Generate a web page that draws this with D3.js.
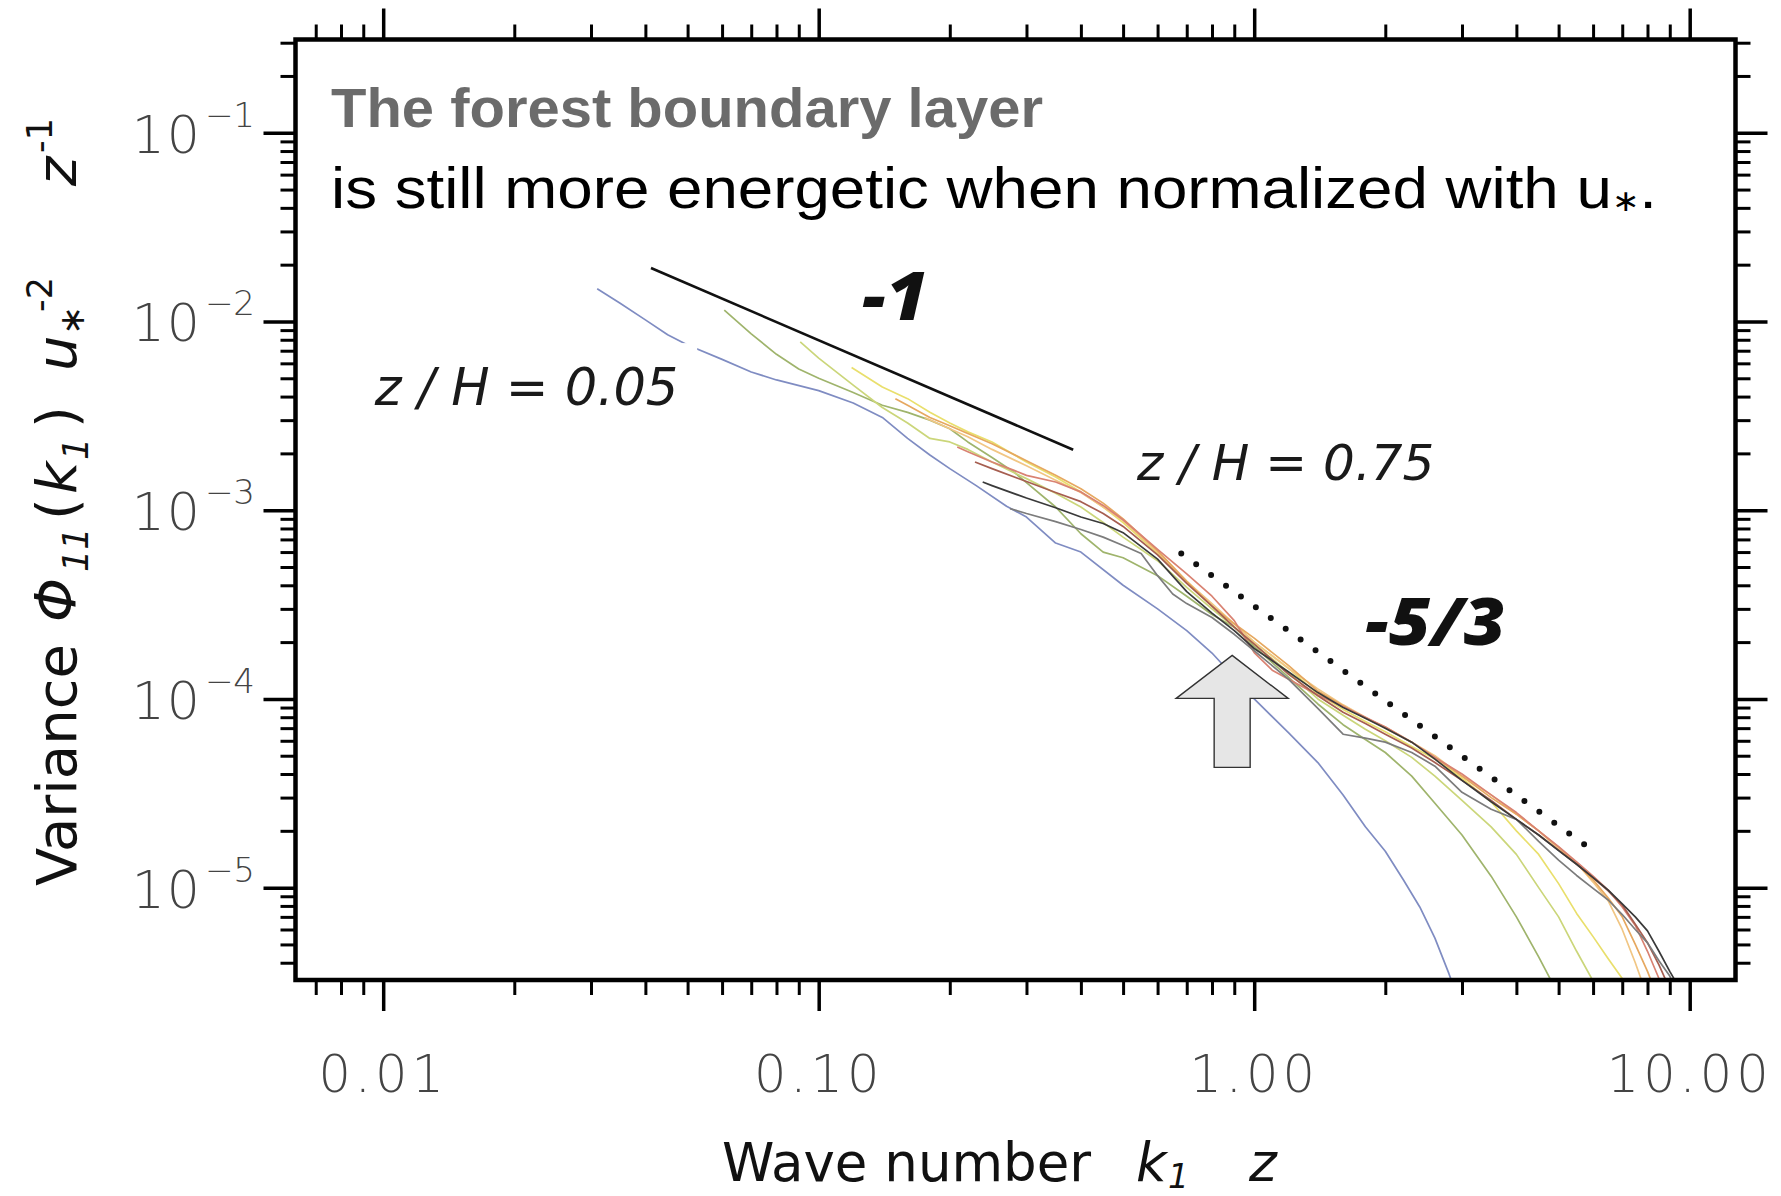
<!DOCTYPE html>
<html>
<head>
<meta charset="utf-8">
<script src="https://cdn.jsdelivr.net/npm/d3@7"></script>
<style>
  html, body { margin: 0; padding: 0; background: #fff; }
  svg { display: block; }
</style>
</head>
<body>
<svg id="chart" width="1781" height="1196"></svg>
<script>
// axis ticks and labels
const xMajor = [0.01, 0.1, 1, 10];
const xLabels = ["0.01", "0.10", "1.00", "10.00"];
const yMajor = [1e-1, 1e-2, 1e-3, 1e-4, 1e-5];
const yExponents = ["\u22121", "\u22122", "\u22123", "\u22124", "\u22125"];

// spectra: [k1 z, Phi11 u*^-2 z^-1], lowest level (z/H = 0.05) first
const specBlue = [[0.031,1.49e-2],[0.035,1.25e-2],[0.04,1.02e-2],[0.045,8.5e-3],[0.05,7.5e-3],[0.06,6.3e-3],[0.07,5.4e-3],[0.08,4.9e-3],[0.1,4.3e-3],[0.12,3.7e-3],[0.14,3.1e-3],[0.16,2.4e-3],[0.18,1.96e-3],[0.2,1.66e-3],[0.23,1.35e-3],[0.27,1.05e-3],[0.3,9.2e-4],[0.35,6.7e-4],[0.4,6.0e-4],[0.5,4.0e-4],[0.6,3.0e-4],[0.7,2.3e-4],[0.8,1.75e-4],[1.0,1.0e-4],[1.2,6.6e-5],[1.4,4.6e-5],[1.6,3.1e-5],[1.8,2.1e-5],[2.0,1.56e-5],[2.2,1.1e-5],[2.4,7.9e-6],[2.6,5.4e-6],[2.8,3.5e-6],[2.9,2.8e-6]];
const specGreen = [[0.0607,1.15e-2],[0.07,8.6e-3],[0.08,6.7e-3],[0.09,5.6e-3],[0.1,5.0e-3],[0.12,4.2e-3],[0.14,3.6e-3],[0.16,3.3e-3],[0.18,3.0e-3],[0.2,2.7e-3],[0.22,2.3e-3],[0.25,1.9e-3],[0.28,1.6e-3],[0.3,1.4e-3],[0.35,1.04e-3],[0.4,7.5e-4],[0.45,6.0e-4],[0.5,5.6e-4],[0.6,4.5e-4],[0.7,3.5e-4],[0.8,2.8e-4],[0.9,2.4e-4],[1.0,1.9e-4],[1.2,1.3e-4],[1.4,9.4e-5],[1.6,7.3e-5],[1.8,6.1e-5],[2.0,5.2e-5],[2.3,3.9e-5],[2.6,2.8e-5],[3.0,1.9e-5],[3.5,1.15e-5],[4.0,7.0e-6],[4.5,4.3e-6],[5.0,2.7e-6]];
const specYellowGreen = [[0.0907,7.8e-3],[0.1,6.4e-3],[0.12,4.6e-3],[0.14,3.5e-3],[0.16,2.9e-3],[0.18,2.4e-3],[0.2,2.3e-3],[0.22,2.1e-3],[0.25,1.8e-3],[0.3,1.47e-3],[0.35,1.23e-3],[0.4,1.04e-3],[0.45,8.6e-4],[0.5,7.2e-4],[0.6,5.4e-4],[0.7,3.9e-4],[0.8,3.0e-4],[0.9,2.4e-4],[1.0,1.95e-4],[1.2,1.38e-4],[1.4,1.0e-4],[1.6,8.2e-5],[1.8,6.9e-5],[2.0,6.0e-5],[2.3,4.9e-5],[2.6,3.9e-5],[3.0,2.9e-5],[3.5,2.1e-5],[4.0,1.5e-5],[4.5,1.0e-5],[5.0,7.0e-6],[5.5,4.6e-6],[6.0,3.2e-6]];
const specYellow = [[0.119,5.7e-3],[0.14,4.5e-3],[0.16,3.9e-3],[0.18,3.3e-3],[0.2,2.9e-3],[0.22,2.6e-3],[0.25,2.3e-3],[0.3,1.8e-3],[0.35,1.5e-3],[0.4,1.25e-3],[0.45,1.04e-3],[0.5,8.6e-4],[0.6,5.9e-4],[0.7,4.2e-4],[0.8,3.1e-4],[0.9,2.5e-4],[1.0,2.0e-4],[1.2,1.45e-4],[1.4,1.06e-4],[1.6,8.8e-5],[1.8,7.6e-5],[2.0,6.7e-5],[2.3,5.6e-5],[2.6,4.8e-5],[3.0,3.8e-5],[3.5,2.85e-5],[4.0,2.0e-5],[4.5,1.5e-5],[5.0,1.05e-5],[5.5,7.3e-6],[6.0,5.5e-6],[6.5,4.2e-6],[7.0,3.3e-6],[7.3,2.9e-6]];
const specLightOrange = [[0.175,3.1e-3],[0.2,2.7e-3],[0.22,2.45e-3],[0.25,2.1e-3],[0.3,1.72e-3],[0.35,1.44e-3],[0.4,1.24e-3],[0.45,1.04e-3],[0.5,8.8e-4],[0.6,6.0e-4],[0.7,4.2e-4],[0.8,3.2e-4],[0.9,2.5e-4],[1.0,2.0e-4],[1.2,1.45e-4],[1.4,1.13e-4],[1.6,9.3e-5],[1.8,8.0e-5],[2.0,7.0e-5],[2.3,5.9e-5],[2.6,5.0e-5],[3.0,3.9e-5],[3.5,3.1e-5],[4.0,2.45e-5],[4.5,2.0e-5],[5.0,1.6e-5],[5.5,1.35e-5],[6.0,1.07e-5],[6.5,8.5e-6],[7.0,6.0e-6],[7.5,4.0e-6],[7.8,3.1e-6]];
const specOrange = [[0.15,3.9e-3],[0.16,3.6e-3],[0.18,3.1e-3],[0.2,2.8e-3],[0.22,2.55e-3],[0.25,2.25e-3],[0.3,1.83e-3],[0.35,1.53e-3],[0.4,1.3e-3],[0.45,1.09e-3],[0.5,9.0e-4],[0.6,6.1e-4],[0.7,4.2e-4],[0.8,3.1e-4],[0.9,2.5e-4],[1.0,2.1e-4],[1.2,1.5e-4],[1.4,1.1e-4],[1.6,9.2e-5],[1.8,7.9e-5],[2.0,7.1e-5],[2.3,5.9e-5],[2.6,4.9e-5],[3.0,3.9e-5],[3.5,3.0e-5],[4.0,2.45e-5],[4.5,2.0e-5],[5.0,1.64e-5],[5.5,1.34e-5],[6.0,1.1e-5],[6.5,8.8e-6],[7.0,7.0e-6],[7.5,5.0e-6],[8.0,3.6e-6],[8.3,2.9e-6]];
const specRed = [[0.208,2.16e-3],[0.22,2.04e-3],[0.25,1.8e-3],[0.28,1.63e-3],[0.3,1.53e-3],[0.35,1.41e-3],[0.4,1.25e-3],[0.45,1.06e-3],[0.5,8.9e-4],[0.6,6.2e-4],[0.7,4.6e-4],[0.8,3.5e-4],[0.9,2.6e-4],[1.0,1.76e-4],[1.1,1.42e-4],[1.2,1.27e-4],[1.4,1.05e-4],[1.6,9.1e-5],[1.8,8.0e-5],[2.0,7.1e-5],[2.3,5.9e-5],[2.6,4.9e-5],[3.0,4.0e-5],[3.5,3.1e-5],[4.0,2.5e-5],[4.5,2.0e-5],[5.0,1.65e-5],[5.5,1.37e-5],[6.0,1.15e-5],[6.5,9.7e-6],[7.0,7.9e-6],[7.5,6.3e-6],[8.0,4.6e-6],[8.5,3.3e-6],[8.7,2.9e-6]];
const specBrown = [[0.2285,1.8e-3],[0.25,1.66e-3],[0.3,1.42e-3],[0.35,1.24e-3],[0.4,1.11e-3],[0.45,9.6e-4],[0.5,8.2e-4],[0.6,5.8e-4],[0.7,4.1e-4],[0.8,3.1e-4],[0.9,2.4e-4],[1.0,1.95e-4],[1.2,1.35e-4],[1.4,1.04e-4],[1.6,8.5e-5],[1.8,7.4e-5],[2.0,6.5e-5],[2.3,5.5e-5],[2.6,4.6e-5],[3.0,3.7e-5],[3.5,2.9e-5],[4.0,2.3e-5],[4.5,1.9e-5],[5.0,1.58e-5],[5.5,1.33e-5],[6.0,1.13e-5],[6.5,9.6e-6],[7.0,8.1e-6],[7.5,6.4e-6],[8.0,5.1e-6],[8.5,3.9e-6],[9.0,2.9e-6]];
const specGray = [[0.275,1.02e-3],[0.3,9.6e-4],[0.35,8.7e-4],[0.4,7.9e-4],[0.45,7.2e-4],[0.5,6.5e-4],[0.55,5.9e-4],[0.6,4.5e-4],[0.65,3.6e-4],[0.7,3.2e-4],[0.8,2.7e-4],[0.9,2.2e-4],[1.0,1.8e-4],[1.2,1.27e-4],[1.4,8.9e-5],[1.6,6.5e-5],[1.8,6.2e-5],[2.0,5.9e-5],[2.3,5.2e-5],[2.6,4.4e-5],[3.0,3.2e-5],[3.5,2.6e-5],[4.0,2.3e-5],[4.5,1.76e-5],[5.0,1.4e-5],[5.5,1.16e-5],[6.0,9.9e-6],[6.5,8.6e-6],[7.0,7.2e-6],[7.5,6.0e-6],[8.0,5.1e-6],[8.5,4.1e-6],[9.0,3.4e-6],[9.3,2.9e-6]];
const specDark = [[0.238,1.41e-3],[0.25,1.35e-3],[0.3,1.16e-3],[0.35,1.03e-3],[0.4,9.2e-4],[0.45,8.5e-4],[0.5,7.6e-4],[0.6,5.5e-4],[0.7,3.7e-4],[0.8,2.85e-4],[0.9,2.3e-4],[1.0,1.85e-4],[1.2,1.39e-4],[1.4,1.08e-4],[1.6,9.0e-5],[1.8,7.9e-5],[2.0,7.0e-5],[2.3,5.9e-5],[2.6,4.8e-5],[3.0,3.7e-5],[3.5,2.85e-5],[4.0,2.3e-5],[4.5,1.9e-5],[5.0,1.57e-5],[5.5,1.33e-5],[6.0,1.13e-5],[6.5,9.7e-6],[7.0,8.2e-6],[7.5,7.0e-6],[8.0,5.9e-6],[8.5,4.6e-6],[9.0,3.6e-6],[9.5,2.9e-6]];

// reference slopes -1 and -5/3
const slopeOne = [[0.0412, 0.0192], [0.384, 0.00209]];
const slopeFiveThirds = [[0.68, 5.9e-4], [6.07, 1.54e-5]];

const series = [
  { values: specBlue, color: "#7f8cc2" },
  { values: specGreen, color: "#9fb46c" },
  { values: specYellowGreen, color: "#cbd67a" },
  { values: specYellow, color: "#e9df6c" },
  { values: specLightOrange, color: "#f1c684" },
  { values: specOrange, color: "#e6a860" },
  { values: specRed, color: "#d98272" },
  { values: specBrown, color: "#a65e50" },
  { values: specGray, color: "#7c7c7c" },
  { values: specDark, color: "#3a3a3a" }
];

const svg = d3.select("#chart");
const pLeft = 295.5, pRight = 1735.5, pTop = 39.5, pBottom = 980;

const x = d3.scaleLog().domain([0.00629, 12.74]).range([pLeft, pRight]);
const y = d3.scaleLog().domain([0.312, 3.24e-6]).range([pTop, pBottom]);

svg.append("defs").append("clipPath").attr("id", "plot")
  .append("rect").attr("x", pLeft).attr("y", pTop)
  .attr("width", pRight - pLeft).attr("height", pBottom - pTop);

// spectra
const line = d3.line().x(d => x(d[0])).y(d => y(d[1]));
const plot = svg.append("g").attr("clip-path", "url(#plot)");
plot.selectAll("path.spec")
  .data(series)
  .enter().append("path")
  .attr("class", "spec")
  .attr("d", d => line(d.values))
  .attr("fill", "none")
  .attr("stroke", d => d.color)
  .attr("stroke-width", 1.7)
  .attr("stroke-linejoin", "round");

// slope guides
plot.append("path").attr("d", line(slopeOne))
  .attr("stroke", "#111").attr("stroke-width", 2.6).attr("fill", "none");
plot.append("path").attr("d", line(slopeFiveThirds))
  .attr("stroke", "#111").attr("stroke-width", 6).attr("fill", "none")
  .attr("stroke-linecap", "round").attr("stroke-dasharray", "0 18.4");

// white box behind the z/H = 0.05 label
svg.append("rect")
  .attr("x", x(0.00841)).attr("y", y(7.68e-3))
  .attr("width", x(0.0526) - x(0.00841)).attr("height", y(2.82e-3) - y(7.68e-3))
  .attr("fill", "#fff");

svg.append("text")
  .attr("x", x(0.0476)).attr("y", y(3.6e-3))
  .attr("text-anchor", "end")
  .attr("font-family", "DejaVu Sans").attr("font-style", "italic")
  .attr("font-size", 51).attr("fill", "#1a1a1a")
  .text("z / H = 0.05");

svg.append("text")
  .attr("x", x(0.538)).attr("y", y(1.44e-3))
  .attr("font-family", "DejaVu Sans").attr("font-style", "italic")
  .attr("font-size", 50).attr("fill", "#1a1a1a")
  .text("z / H = 0.75");

svg.append("text")
  .attr("x", x(0.1258)).attr("y", y(1.02e-2))
  .attr("font-family", "'Open Sans', 'DejaVu Sans'").attr("font-weight", 800)
  .attr("font-style", "italic").attr("font-size", 68).attr("fill", "#111")
  .attr("textLength", 66).attr("lengthAdjust", "spacingAndGlyphs")
  .text("-1");

svg.append("text")
  .attr("x", x(1.80)).attr("y", y(1.92e-4))
  .attr("font-family", "'Open Sans', 'DejaVu Sans'").attr("font-weight", 800)
  .attr("font-style", "italic").attr("font-size", 66).attr("fill", "#111")
  .attr("textLength", 140).attr("lengthAdjust", "spacingAndGlyphs")
  .text("-5/3");

// big up arrow
const arrowTip = [0.89, 1.7e-4];
const tx = x(arrowTip[0]), ty = y(arrowTip[1]);
svg.append("path")
  .attr("d", `M${tx},${ty} L${tx + 56},${ty + 43} L${tx + 18},${ty + 43} L${tx + 18},${ty + 112}
              L${tx - 18},${ty + 112} L${tx - 18},${ty + 43} L${tx - 56},${ty + 43} Z`)
  .attr("fill", "#e6e6e6").attr("stroke", "#333").attr("stroke-width", 1.4);

// frame
svg.append("rect")
  .attr("x", pLeft).attr("y", pTop)
  .attr("width", pRight - pLeft).attr("height", pBottom - pTop)
  .attr("fill", "none").attr("stroke", "#000").attr("stroke-width", 4.5);

// ticks, outward on all four sides
const xMinor = x.ticks().filter(v => !xMajor.some(m => Math.abs(m - v) / m < 1e-6));
const yMinor = y.ticks().filter(v => !yMajor.some(m => Math.abs(m - v) / m < 1e-6));

function ticks(axisFn, scale, vals, size, width, transform) {
  const g = svg.append("g").attr("transform", transform)
    .call(axisFn(scale).tickValues(vals).tickSize(size).tickFormat(""));
  g.select(".domain").remove();
  g.selectAll("line").attr("stroke", "#000").attr("stroke-width", width);
}
ticks(d3.axisBottom, x, xMajor, 31, 3.5, `translate(0,${pBottom})`);
ticks(d3.axisBottom, x, xMinor, 15, 3, `translate(0,${pBottom})`);
ticks(d3.axisTop, x, xMajor, 31, 3.5, `translate(0,${pTop})`);
ticks(d3.axisTop, x, xMinor, 15, 3, `translate(0,${pTop})`);
ticks(d3.axisLeft, y, yMajor, 32, 3.5, `translate(${pLeft},0)`);
ticks(d3.axisLeft, y, yMinor, 15, 3, `translate(${pLeft},0)`);
ticks(d3.axisRight, y, yMajor, 32, 3.5, `translate(${pRight},0)`);
ticks(d3.axisRight, y, yMinor, 15, 3, `translate(${pRight},0)`);

// tick labels
svg.selectAll("text.xl")
  .data(xMajor)
  .enter().append("text")
  .attr("class", "xl")
  .attr("x", d => x(d)).attr("y", 1092)
  .attr("text-anchor", "middle")
  .attr("font-family", "DejaVu Sans").attr("font-weight", 200)
  .attr("font-size", 51).attr("letter-spacing", 4).attr("fill", "#444")
  .text((d, i) => xLabels[i]);

const yl = svg.selectAll("text.yl")
  .data(yMajor)
  .enter().append("text")
  .attr("class", "yl")
  .attr("x", 255).attr("y", d => y(d) + 20)
  .attr("text-anchor", "end")
  .attr("font-family", "DejaVu Sans").attr("font-weight", 200)
  .attr("font-size", 52).attr("letter-spacing", 2).attr("fill", "#444");
yl.append("tspan").text("10");
yl.append("tspan").attr("dy", -26).attr("dx", 3).attr("font-size", 34).attr("letter-spacing", 0)
  .text((d, i) => yExponents[i]);

// axis titles
const titleFont = "DejaVu Sans";
function pieces(g, list, size) {
  g.selectAll("text")
    .data(list)
    .enter().append("text")
    .attr("x", d => d.x).attr("y", d => d.dy || 0)
    .attr("font-family", titleFont)
    .attr("font-style", d => d.it ? "italic" : "normal")
    .attr("font-size", d => d.small ? Math.round(size * 0.62) : size)
    .attr("fill", "#111")
    .text(d => d.t);
}

const xt = svg.append("g").attr("transform", "translate(0,1181)");
pieces(xt, [
  { t: "Wave number", x: 722 },
  { t: "k", x: 1136, it: true },
  { t: "1", x: 1168, it: true, small: true, dy: 7 },
  { t: "z", x: 1249, it: true }
], 53);

const yt = svg.append("g").attr("transform", "translate(76,886) rotate(-90)");
pieces(yt, [
  { t: "Variance", x: 0 },
  { t: "\u03A6", x: 264, it: true },
  { t: "11", x: 314, it: true, small: true, dy: 12 },
  { t: "(", x: 366 },
  { t: "k", x: 392, it: true },
  { t: "1", x: 426, it: true, small: true, dy: 12 },
  { t: ")", x: 458 },
  { t: "u", x: 515, it: true },
  { t: "\u2217", x: 551, small: true, dy: 8 },
  { t: "-2", x: 574, small: true, dy: -24 },
  { t: "z", x: 700, it: true },
  { t: "-1", x: 733, small: true, dy: -24 }
], 56);

// headline text inside the frame
svg.append("text")
  .attr("x", 331).attr("y", 127)
  .attr("font-family", "'Liberation Sans', Arial, sans-serif").attr("font-weight", "bold")
  .attr("font-size", 55).attr("fill", "#6b6b6b")
  .attr("textLength", 712).attr("lengthAdjust", "spacingAndGlyphs")
  .text("The forest boundary layer");

const sub = svg.append("text")
  .attr("x", 331).attr("y", 208)
  .attr("font-family", "'Liberation Sans', Arial, sans-serif")
  .attr("font-size", 58).attr("fill", "#000")
  .attr("textLength", 1326).attr("lengthAdjust", "spacingAndGlyphs");
sub.append("tspan").text("is still more energetic when normalized with u");
sub.append("tspan").attr("font-size", 30).attr("dy", 3).text("\u2217");
sub.append("tspan").attr("dy", -3).text(".");
</script>
</body>
</html>
